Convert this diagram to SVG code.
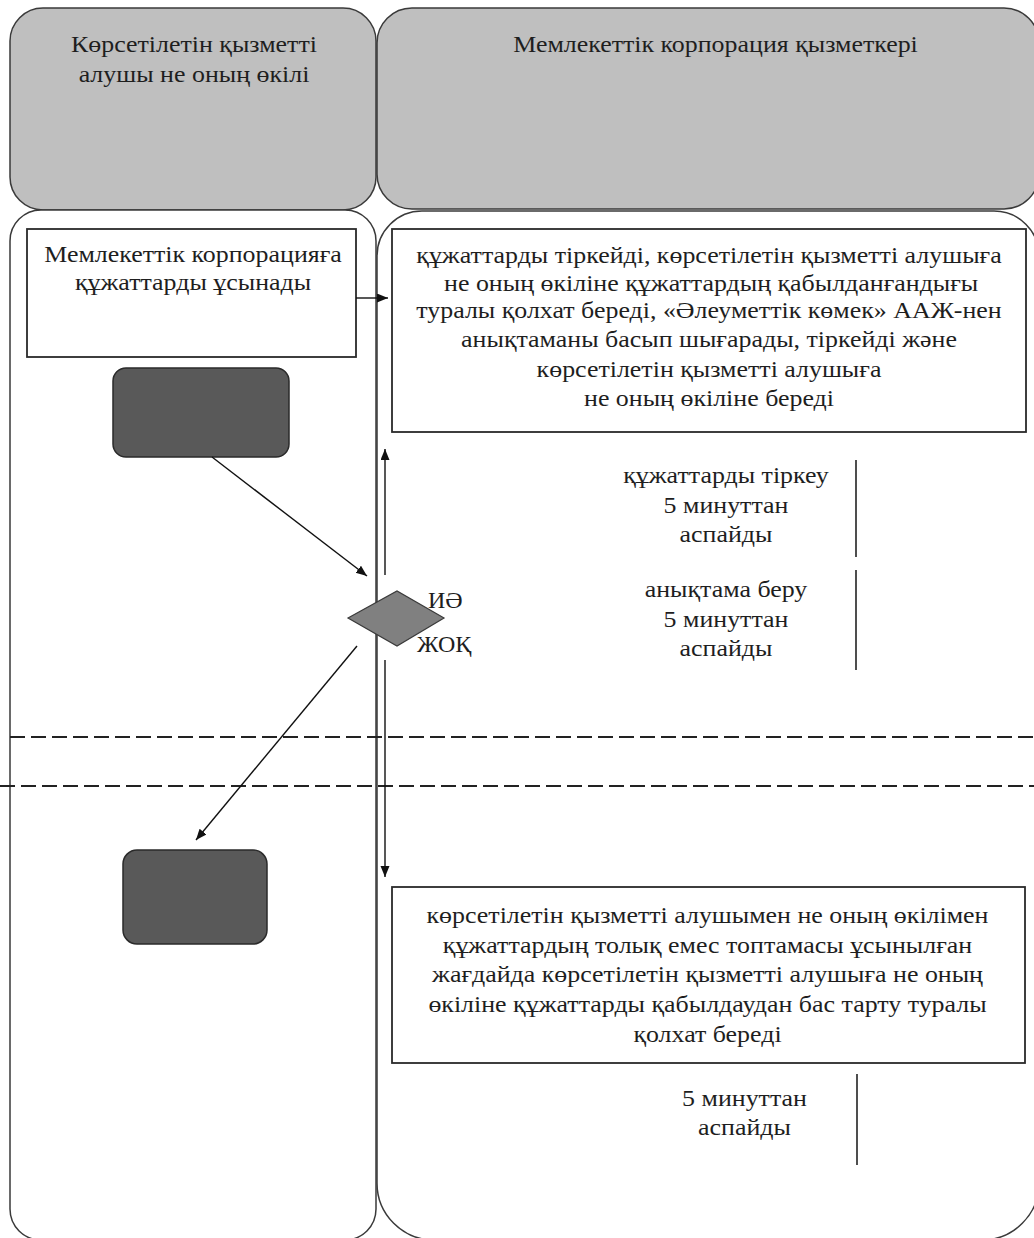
<svg xmlns="http://www.w3.org/2000/svg" width="1034" height="1238" viewBox="0 0 1034 1238">
<style>
  .hdr { fill: #bfbfbf; stroke: #3a3a3a; stroke-width: 1.5; }
  .lane { fill: #ffffff; stroke: #3a3a3a; stroke-width: 1.5; }
  .box { fill: #ffffff; stroke: #2a2a2a; stroke-width: 1.8; }
  .dark { fill: #595959; stroke: #2a2a2a; stroke-width: 1.5; }
  .dia { fill: #808080; stroke: #3a3a3a; stroke-width: 1.2; }
  .conn { stroke: #111; stroke-width: 1.4; fill: none; }
  .dash { stroke: #222; stroke-width: 1.8; stroke-dasharray: 15 6; fill: none; }
  .tl { stroke: #222; stroke-width: 1.6; }
</style>
<defs>
  <marker id="ah" markerUnits="userSpaceOnUse" markerWidth="12" markerHeight="10" refX="11" refY="4.5" orient="auto">
    <path d="M0,0 L11,4.5 L0,9 z" fill="#111"/>
  </marker>
</defs>
<rect width="1034" height="1238" fill="#ffffff"/>

<g id="header-left">
  <rect class="hdr" x="10" y="8" width="366" height="202" rx="33"/>
  <g transform="translate(194 0) scale(1.08 1)">
    <text font-family="Liberation Serif, serif" font-size="24" fill="#1e1e1e" text-anchor="middle" x="0" y="52">Көрсетілетін қызметті</text>
    <text font-family="Liberation Serif, serif" font-size="24" fill="#1e1e1e" text-anchor="middle" x="0" y="82">алушы не оның өкілі</text>
  </g>
</g>
<g id="header-right">
  <rect class="hdr" x="377" y="8" width="662" height="201" rx="35"/>
  <g transform="translate(715.5 0) scale(1.08 1)">
    <text font-family="Liberation Serif, serif" font-size="24" fill="#1e1e1e" text-anchor="middle" x="0" y="52">Мемлекеттік корпорация қызметкері</text>
  </g>
</g>

<g id="lane-left">
  <rect class="lane" x="10" y="210" width="366" height="1030" rx="31"/>
</g>
<g id="lane-right">
  <path class="lane" d="M422,211 L994,211 A45,45 0 0 1 1039,256 L1039,1183 A57,57 0 0 1 982,1240 L434,1240 A57,57 0 0 1 377,1183 L377,256 A45,45 0 0 1 422,211 Z"/>
</g>

<g id="dividers">
  <line class="dash" x1="10" y1="737" x2="1034" y2="737"/>
  <line class="dash" x1="0" y1="786" x2="1034" y2="786"/>
</g>

<g id="box-submit">
  <rect class="box" x="27" y="229" width="329" height="128"/>
  <g transform="translate(193 0) scale(1.08 1)">
    <text font-family="Liberation Serif, serif" font-size="24" fill="#1e1e1e" text-anchor="middle" x="0" y="262">Мемлекеттік корпорацияға</text>
    <text font-family="Liberation Serif, serif" font-size="24" fill="#1e1e1e" text-anchor="middle" x="0" y="290">құжаттарды ұсынады</text>
  </g>
</g>

<g id="start-1">
  <rect class="dark" x="113" y="368" width="176" height="89" rx="13"/>
</g>

<g id="box-register">
  <rect class="box" x="392" y="229" width="634" height="203"/>
  <g transform="translate(709 0) scale(1.08 1)">
    <text font-family="Liberation Serif, serif" font-size="24" fill="#1e1e1e" text-anchor="middle" x="0" y="263">құжаттарды тіркейді, көрсетілетін қызметті алушыға</text>
    <text font-family="Liberation Serif, serif" font-size="24" fill="#1e1e1e" text-anchor="middle" x="2" y="291">не оның өкіліне құжаттардың қабылданғандығы</text>
    <text font-family="Liberation Serif, serif" font-size="24" fill="#1e1e1e" text-anchor="middle" x="0" y="318">туралы қолхат береді, «Әлеуметтік көмек» ААЖ-нен</text>
    <text font-family="Liberation Serif, serif" font-size="24" fill="#1e1e1e" text-anchor="middle" x="0" y="347">анықтаманы басып шығарады, тіркейді және</text>
    <text font-family="Liberation Serif, serif" font-size="24" fill="#1e1e1e" text-anchor="middle" x="0" y="377">көрсетілетін қызметті алушыға</text>
    <text font-family="Liberation Serif, serif" font-size="24" fill="#1e1e1e" text-anchor="middle" x="0" y="406">не оның өкіліне береді</text>
  </g>
</g>

<g id="decision">
  <polygon class="dia" points="348,618 397,591 444,618 397,646"/>
  <text font-family="Liberation Serif, serif" font-size="24" fill="#1e1e1e" x="428" y="608">ИӘ</text>
  <text font-family="Liberation Serif, serif" font-size="24" fill="#1e1e1e" x="417" y="652">ЖОҚ</text>
</g>

<g id="end-2">
  <rect class="dark" x="123" y="850" width="144" height="94" rx="14"/>
</g>

<g id="box-refuse">
  <rect class="box" x="392" y="887" width="633" height="176"/>
  <g transform="translate(707.5 0) scale(1.08 1)">
    <text font-family="Liberation Serif, serif" font-size="24" fill="#1e1e1e" text-anchor="middle" x="0" y="923">көрсетілетін қызметті алушымен не оның өкілімен</text>
    <text font-family="Liberation Serif, serif" font-size="24" fill="#1e1e1e" text-anchor="middle" x="0" y="953">құжаттардың толық емес топтамасы ұсынылған</text>
    <text font-family="Liberation Serif, serif" font-size="24" fill="#1e1e1e" text-anchor="middle" x="0" y="982">жағдайда көрсетілетін қызметті алушыға не оның</text>
    <text font-family="Liberation Serif, serif" font-size="24" fill="#1e1e1e" text-anchor="middle" x="0" y="1012">өкіліне құжаттарды қабылдаудан бас тарту туралы</text>
    <text font-family="Liberation Serif, serif" font-size="24" fill="#1e1e1e" text-anchor="middle" x="0" y="1042">қолхат береді</text>
  </g>
</g>

<g id="time-register">
  <g transform="translate(726 0) scale(1.08 1)">
    <text font-family="Liberation Serif, serif" font-size="24" fill="#1e1e1e" text-anchor="middle" x="0" y="483">құжаттарды тіркеу</text>
    <text font-family="Liberation Serif, serif" font-size="24" fill="#1e1e1e" text-anchor="middle" x="0" y="513">5 минуттан</text>
    <text font-family="Liberation Serif, serif" font-size="24" fill="#1e1e1e" text-anchor="middle" x="0" y="542">аспайды</text>
  </g>
  <line class="tl" x1="856" y1="460" x2="856" y2="557"/>
</g>
<g id="time-certificate">
  <g transform="translate(726 0) scale(1.08 1)">
    <text font-family="Liberation Serif, serif" font-size="24" fill="#1e1e1e" text-anchor="middle" x="0" y="597">анықтама беру</text>
    <text font-family="Liberation Serif, serif" font-size="24" fill="#1e1e1e" text-anchor="middle" x="0" y="627">5 минуттан</text>
    <text font-family="Liberation Serif, serif" font-size="24" fill="#1e1e1e" text-anchor="middle" x="0" y="656">аспайды</text>
  </g>
  <line class="tl" x1="856" y1="570" x2="856" y2="670"/>
</g>
<g id="time-refuse">
  <g transform="translate(744.5 0) scale(1.08 1)">
    <text font-family="Liberation Serif, serif" font-size="24" fill="#1e1e1e" text-anchor="middle" x="0" y="1106">5 минуттан</text>
    <text font-family="Liberation Serif, serif" font-size="24" fill="#1e1e1e" text-anchor="middle" x="0" y="1135">аспайды</text>
  </g>
  <line class="tl" x1="857" y1="1074" x2="857" y2="1165"/>
</g>

<g id="connectors">
  <line class="conn" x1="356" y1="298" x2="388" y2="298" marker-end="url(#ah)"/>
  <line class="conn" x1="212" y1="457" x2="367" y2="576" marker-end="url(#ah)"/>
  <line class="conn" x1="385" y1="575" x2="385" y2="449" marker-end="url(#ah)"/>
  <line class="conn" x1="385" y1="660" x2="385" y2="877" marker-end="url(#ah)"/>
  <line class="conn" x1="357" y1="646" x2="196" y2="840" marker-end="url(#ah)"/>
</g>
</svg>
